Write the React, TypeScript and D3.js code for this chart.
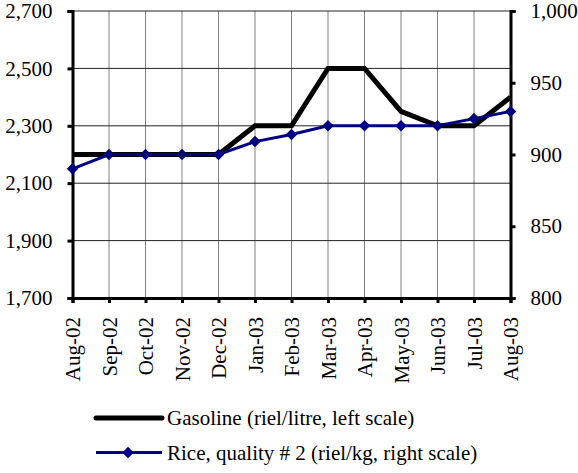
import React, { useEffect, useRef } from 'react';
import * as d3 from 'd3';

const months = ['Aug-02', 'Sep-02', 'Oct-02', 'Nov-02', 'Dec-02', 'Jan-03', 'Feb-03', 'Mar-03', 'Apr-03', 'May-03', 'Jun-03', 'Jul-03', 'Aug-03'];
const gasoline = [2200, 2200, 2200, 2200, 2200, 2300, 2300, 2500, 2500, 2350, 2300, 2300, 2400];
const rice = [890, 900, 900, 900, 900, 909, 914, 920, 920, 920, 920, 925, 930];
const leftTicks = [1700, 1900, 2100, 2300, 2500, 2700];
const rightTicks = [800, 850, 900, 950, 1000];
const seriesNames = ['Gasoline (riel/litre, left scale)', 'Rice, quality # 2 (riel/kg, right scale)'];

const App: React.FC = () => {
  const ref = useRef<SVGSVGElement | null>(null);

  useEffect(() => {
    if (!ref.current) return;
    const svg = d3.select(ref.current);
    svg.selectAll('*').remove();

    const font = "'Liberation Serif', serif";
    const fs = '21px';
    const left = 72.5, right = 510.5, top = 11, bottom = 298;

    const x = d3.scalePoint<string>().domain(months).range([left, right]);
    const yL = d3.scaleLinear().domain([1700, 2700]).range([bottom, top]);
    const yR = d3.scaleLinear().domain([800, 1000]).range([bottom, top]);

    // grid
    svg.append('g').selectAll('line').data(months.slice(1, -1)).enter().append('line')
      .attr('x1', d => x(d)!).attr('x2', d => x(d)!)
      .attr('y1', top).attr('y2', bottom)
      .attr('stroke', '#808080').attr('stroke-width', 1);
    svg.append('g').selectAll('line').data(leftTicks.slice(1)).enter().append('line')
      .attr('x1', left).attr('x2', right)
      .attr('y1', d => yL(d)).attr('y2', d => yL(d))
      .attr('stroke', '#222').attr('stroke-width', 1);

    // axes
    const axL = svg.append('g').attr('transform', `translate(${left},0)`)
      .call(d3.axisLeft(yL).tickValues(leftTicks).tickSize(5).tickPadding(15).tickFormat(d3.format(',')));
    const axR = svg.append('g').attr('transform', `translate(${right},0)`)
      .call(d3.axisRight(yR).tickValues(rightTicks).tickSize(5).tickPadding(15).tickFormat(d3.format(',')));
    const axB = svg.append('g').attr('transform', `translate(0,${bottom})`)
      .call(d3.axisBottom(x).tickSize(5).tickPadding(6));
    [axL, axR, axB].forEach(a => {
      a.attr('font-family', null).attr('font-size', null);
      a.select('.domain').attr('stroke', '#000').attr('stroke-width', 3);
      a.selectAll('.tick line').attr('stroke', '#000').attr('stroke-width', 3);
      a.selectAll('text').style('font-family', font).style('font-size', fs).attr('fill', '#000');
    });
    axB.selectAll('text')
      .attr('transform', 'rotate(-90)')
      .attr('text-anchor', 'end')
      .attr('x', -19).attr('y', 0).attr('dy', '0.35em');

    // gasoline
    svg.append('path').datum(gasoline)
      .attr('fill', 'none').attr('stroke', '#000').attr('stroke-width', 5)
      .attr('stroke-linejoin', 'miter')
      .attr('d', d3.line<number>().x((_, i) => x(months[i])!).y(d => yL(d)));

    // rice
    svg.append('path').datum(rice)
      .attr('fill', 'none').attr('stroke', '#000080').attr('stroke-width', 3)
      .attr('d', d3.line<number>().x((_, i) => x(months[i])!).y(d => yR(d)));
    const diamond = d3.symbol().type(d3.symbolDiamond2).size(85);
    svg.append('g').selectAll('path').data(rice).enter().append('path')
      .attr('d', diamond())
      .attr('transform', (d, i) => `translate(${x(months[i])},${yR(d)})`)
      .attr('fill', '#000080');

    // legend
    const lg = svg.append('g');
    lg.append('line').attr('x1', 96).attr('x2', 162).attr('y1', 418).attr('y2', 418)
      .attr('stroke', '#000').attr('stroke-width', 5).attr('stroke-linecap', 'round');
    lg.append('line').attr('x1', 96).attr('x2', 162).attr('y1', 452.5).attr('y2', 452.5)
      .attr('stroke', '#000080').attr('stroke-width', 3);
    lg.append('path').attr('d', diamond()).attr('transform', 'translate(128,452.5)').attr('fill', '#000080');
    lg.selectAll('text').data(seriesNames).enter().append('text')
      .attr('x', 167).attr('y', (_, i) => 418 + i * 34.5).attr('dy', '0.35em')
      .style('font-family', font).style('font-size', fs).attr('fill', '#000')
      .text(d => d);
  }, []);

  return <svg ref={ref} width={578} height={473} style={{ position: 'absolute', left: 0, top: 0, background: '#fff' }} />;
};

export default App;
